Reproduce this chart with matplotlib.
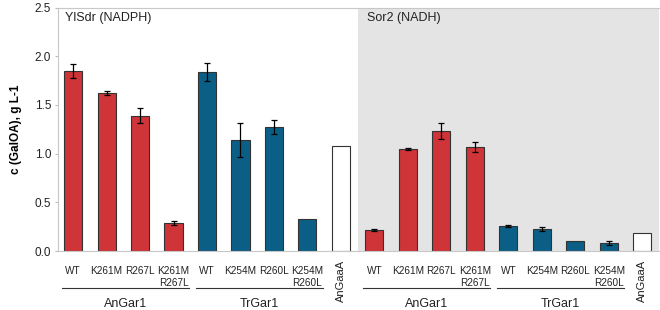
import matplotlib.pyplot as plt
import matplotlib.transforms as mtransforms

plt.rcParams['font.family'] = ['Liberation Sans', 'DejaVu Sans']

# labels of the mutants
mutants = ['WT', 'K261M', 'R267L', 'K261M\nR267L', 'WT', 'K254M', 'R260L', 'K254M\nR260L', '']
groups = ['AnGar1', 'TrGar1']

# YlSdr (NADPH) panel
nadph_vals = [1.85, 1.62, 1.39, 0.29, 1.84, 1.14, 1.27, 0.33, 1.08]
nadph_err = [0.07, 0.02, 0.08, 0.02, 0.09, 0.17, 0.07, 0.0, 0.0]

# Sor2 (NADH) panel
nadh_vals = [0.22, 1.05, 1.23, 1.07, 0.26, 0.23, 0.10, 0.08, 0.19]
nadh_err = [0.01, 0.01, 0.08, 0.05, 0.01, 0.02, 0.0, 0.02, 0.0]

red = '#cf3438'
blue = '#0b5f86'
colors = [red] * 4 + [blue] * 4 + ['white']

fig = plt.figure(figsize=(6.6, 3.1), dpi=100)
ax = fig.add_axes([0.0879, 0.1903, 0.9106, 0.7855])

ax.axvspan(8.5, 17.5, color='#e4e4e4', zorder=0, lw=0)

vals = nadph_vals + nadh_vals
errs = nadph_err + nadh_err
xs = list(range(len(vals)))
cols = colors + colors
ax.bar(xs, vals, width=0.54, color=cols, edgecolor='#333333', linewidth=0.8, zorder=2)
for x, v, e, c in zip(xs, vals, errs, cols):
    if c != 'white' and e > 0:
        ax.errorbar(x, v, yerr=e, fmt='none', ecolor='black', elinewidth=0.9,
                    capsize=2, capthick=0.9, zorder=3)

ax.set_xlim(-0.45, 17.5)
ax.set_ylim(0, 2.5)
ax.set_yticks([0, 0.5, 1.0, 1.5, 2.0, 2.5])
ax.set_yticklabels(['0.0', '0.5', '1.0', '1.5', '2.0', '2.5'], fontsize=8.5, color='#222222')
ax.set_xticks(xs)
ax.set_xticklabels(mutants + mutants, fontsize=7.2, color='#222222', va='top',
                   linespacing=1.25)
ax.tick_params(axis='x', length=0, pad=11)
ax.tick_params(axis='y', length=2, color='#bbbbbb', pad=3)
for s in ['left', 'bottom', 'top', 'right']:
    ax.spines[s].set_color('#c8c8c8')
    ax.spines[s].set_linewidth(0.8)
ax.spines['right'].set_visible(False)

ax.set_ylabel('c (GalOA), g L-1', fontsize=8.5, fontweight='bold', labelpad=9)

ax.text(0.012, 0.955, 'YlSdr (NADPH)', transform=ax.transAxes, fontsize=9,
        va='center', ha='left', color='#222222')
ax.text(0.514, 0.955, 'Sor2 (NADH)', transform=ax.transAxes, fontsize=9,
        va='center', ha='left', color='#222222')

trans = mtransforms.blended_transform_factory(ax.transData, ax.transAxes)
for off in [0, 9]:
    for gi, g in enumerate(groups):
        x0 = off + gi * 4 - 0.33
        x1 = off + gi * 4 + 3.45
        ax.plot([x0, x1], [-0.152, -0.152], transform=trans, color='#333333',
                lw=0.8, clip_on=False)
        ax.text((x0 + x1) / 2, -0.218, g, transform=trans, ha='center',
                va='center', fontsize=9, color='#222222')
    ax.text(off + 8, -0.035, 'AnGaaA', transform=trans, rotation=90,
            ha='center', va='top', fontsize=8, color='#222222')

fig.savefig('out.png', dpi=100)
